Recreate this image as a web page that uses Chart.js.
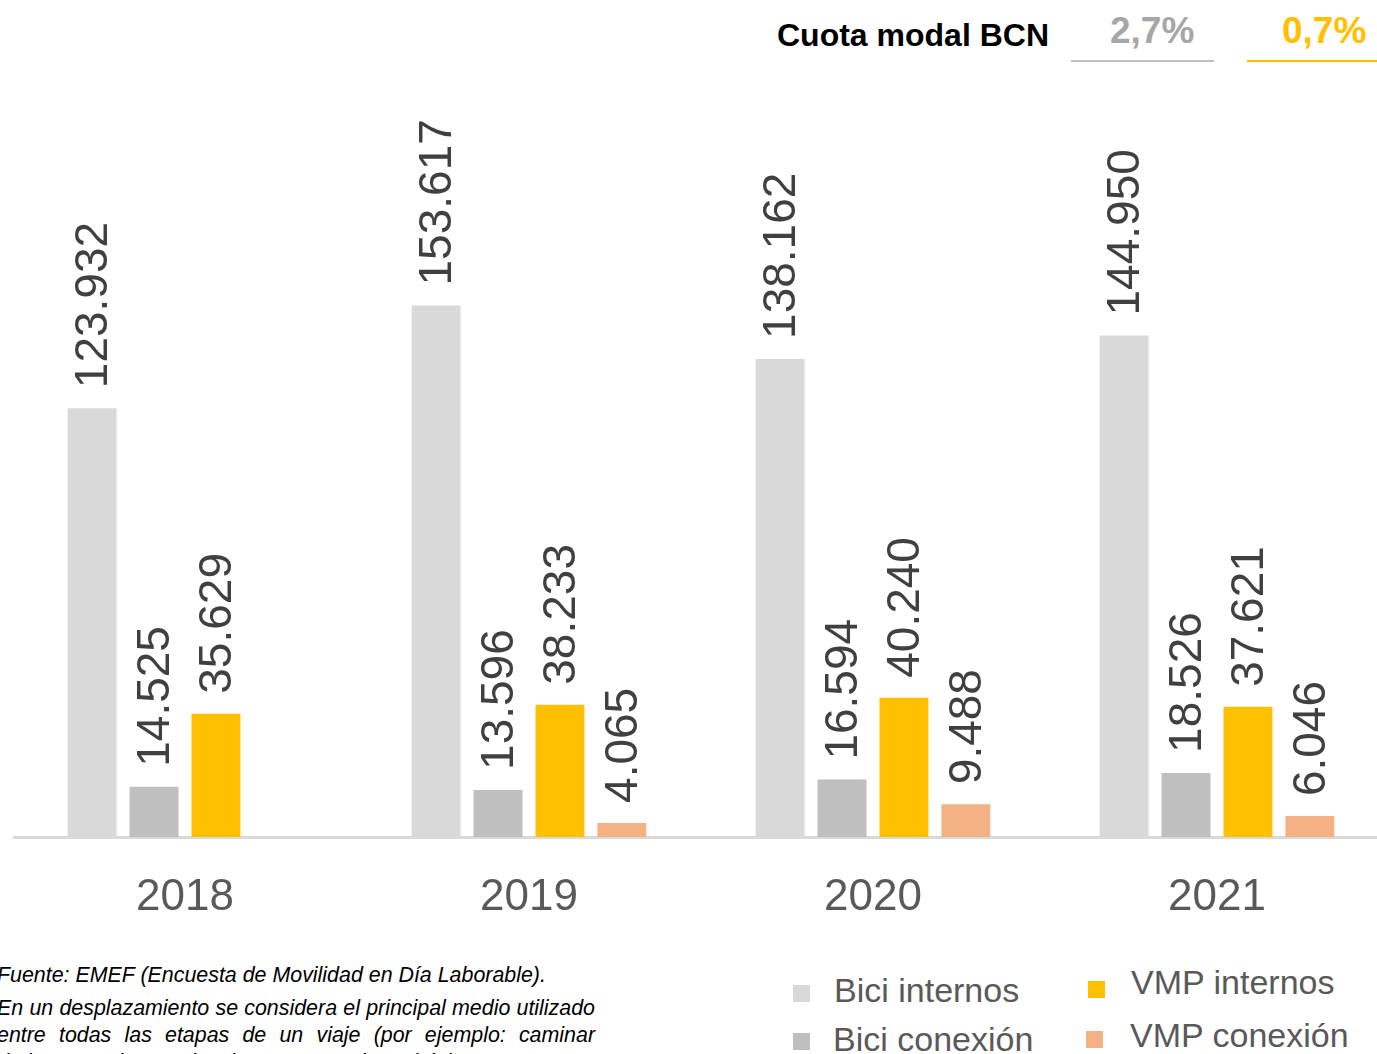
<!DOCTYPE html>
<html>
<head>
<meta charset="utf-8">
<script src="https://cdn.jsdelivr.net/npm/chart.js@4/dist/chart.umd.min.js"></script>
<style>
  html, body { margin: 0; padding: 0; background: #fff; overflow: hidden; width: 1377px; height: 1054px; }
  body { position: relative; font-family: "Liberation Sans", Arial, sans-serif; }
  #wrap { position: absolute; left: 13px; top: 0; width: 1376px; height: 940px; }
  .t { position: absolute; white-space: nowrap; line-height: 1; }
  .line { position: absolute; height: 2px; }
  #note { position: absolute; left: -3px; top: 962px; width: 598px; font-style: italic; font-size: 21.4px; color: #000; }
  #note div { line-height: 27px; white-space: nowrap; }
  #note .j { text-align: justify; text-align-last: justify; }
  #note .gap { margin-bottom: 6px; }
  .lg { position: absolute; font-size: 34px; color: #595959; white-space: nowrap; line-height: 1; }
</style>
</head>
<body>
<div class="t" style="left:777px;top:19px;font-size:32px;font-weight:bold;color:#000;">Cuota modal BCN</div>
<div class="t" style="left:1110px;top:12px;font-size:37px;font-weight:bold;color:#a6a6a6;">2,7%</div>
<div class="t" style="left:1282px;top:12px;font-size:37px;font-weight:bold;color:#ffc000;">0,7%</div>
<div class="line" style="left:1071px;top:60px;width:143px;background:#bfbfbf;"></div>
<div class="line" style="left:1247px;top:60px;width:130px;background:#ffc000;"></div>

<div id="wrap"><canvas id="barchart"></canvas></div>

<div id="note">
  <div class="gap">Fuente: EMEF (Encuesta de Movilidad en Día Laborable).</div>
  <div class="j">En un desplazamiento se considera el principal medio utilizado</div>
  <div class="j">entre todas las etapas de un viaje (por ejemplo: caminar</div>
  <div>de la casa a la parada y luego tomar el autobús).</div>
</div>
<div id="legend"></div>

<script>
const years = ["2018", "2019", "2020", "2021"];
const biciInternos = [123932, 153617, 138162, 144950];
const biciConexion = [14525, 13596, 16594, 18526];
const vmpInternos = [35629, 38233, 40240, 37621];
const vmpConexion = [null, 4065, 9488, 6046];

const seriesNames = ["Bici internos", "Bici conexión", "VMP internos", "VMP conexión"];
const seriesColors = ["#d9d9d9", "#bfbfbf", "#ffc000", "#f4b183"];

function fmt(v) {
    return String(v).replace(/\B(?=(\d{3})+(?!\d))/g, ".");
}

// value labels, written vertically above each bar
const barLabels = {
    id: "barLabels",
    afterDatasetsDraw(chart) {
        const ctx = chart.ctx;
        ctx.save();
        ctx.font = "46px 'Liberation Sans', Arial, sans-serif";
        ctx.fillStyle = "#404040";
        ctx.textAlign = "left";
        ctx.textBaseline = "middle";
        chart.data.datasets.forEach((ds, i) => {
            chart.getDatasetMeta(i).data.forEach((bar, j) => {
                const v = ds.data[j];
                if (v === null) return;
                ctx.save();
                ctx.translate(bar.x + 2, bar.y - 20);
                ctx.rotate(-Math.PI / 2);
                ctx.fillText(fmt(v), 0, 0);
                ctx.restore();
            });
        });
        ctx.restore();
    }
};

const CHART = document.getElementById("barchart");
const allSeries = [biciInternos, biciConexion, vmpInternos, vmpConexion];

let barchart = new Chart(CHART, {
    type: 'bar',
    data: {
        labels: years,
        datasets: allSeries.map((d, i) => ({
            label: seriesNames[i],
            data: d,
            backgroundColor: seriesColors[i],
            borderWidth: 0,
            categoryPercentage: 0.72,
            barPercentage: 0.79
        }))
    },
    options: {
        responsive: true,
        maintainAspectRatio: false,
        animation: false,
        layout: { padding: { top: 100, left: 0, right: 0, bottom: 0 } },
        plugins: { legend: { display: false }, tooltip: { enabled: false } },
        scales: {
            x: {
                grid: { display: false, drawTicks: false },
                border: { display: true, color: "#d9d9d9", width: 3 },
                ticks: {
                    color: "#595959",
                    padding: 34,
                    font: { family: "'Liberation Sans', Arial, sans-serif", size: 44 }
                },
                afterFit(scale) { scale.height = 103; }
            },
            y: {
                display: false,
                min: 0,
                max: 213000
            }
        }
    },
    plugins: [barLabels]
});

// legend in two columns, built from the chart's datasets
const legendPos = [
    { sq: [793, 985], txt: [834, 973] },
    { sq: [793, 1033], txt: [833, 1022] },
    { sq: [1088, 981], txt: [1131, 965] },
    { sq: [1086, 1031], txt: [1130, 1018] }
];
const legendBox = document.getElementById("legend");
barchart.data.datasets.forEach((ds, i) => {
    const p = legendPos[i];
    const sq = document.createElement("i");
    sq.style.cssText = "position:absolute;width:17px;height:17px;left:" + p.sq[0] + "px;top:" + p.sq[1] + "px;background:" + ds.backgroundColor;
    legendBox.appendChild(sq);
    const t = document.createElement("div");
    t.className = "lg";
    t.style.left = p.txt[0] + "px";
    t.style.top = p.txt[1] + "px";
    t.textContent = ds.label;
    legendBox.appendChild(t);
});
</script>
</body>
</html>
